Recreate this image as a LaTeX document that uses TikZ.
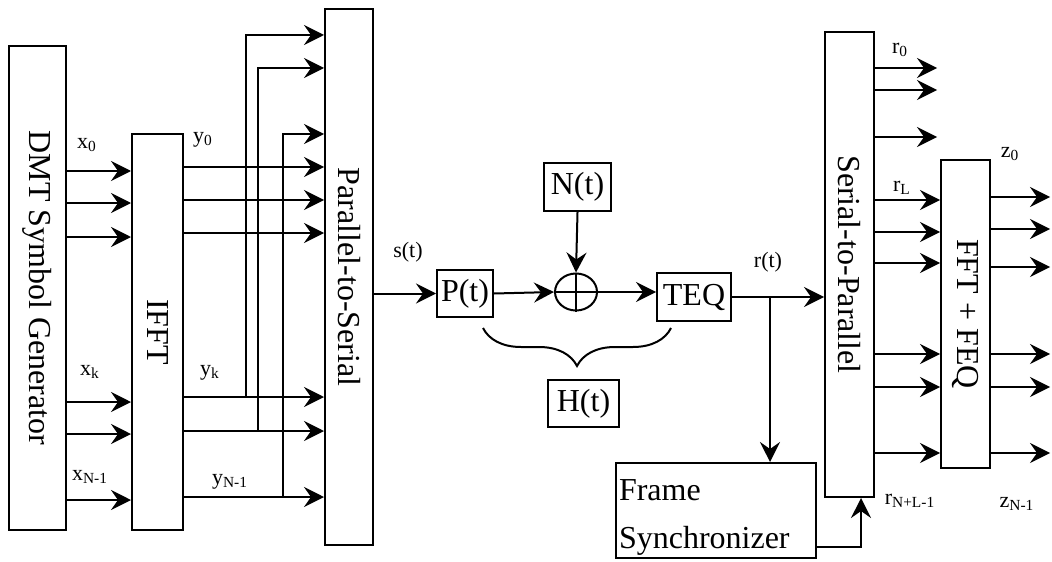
\documentclass[tikz,border=0pt]{standalone}
\usepackage{fontspec}
\usepackage{graphicx}
\setmainfont{Liberation Serif}
\usetikzlibrary{arrows.meta, shapes.geometric, decorations.pathreplacing}
\begin{document}
\begin{tikzpicture}[
	x=0.5pt, y=-0.5pt,
	box/.style={draw, line width=1pt, inner sep=0pt, font=\fontsize{16}{19}\selectfont},
	lbl/.style={inner sep=0pt, font=\fontsize{11}{13}\selectfont},
	arrow/.style={-{Stealth[length=10pt, width=10pt, inset=3.5pt]}, line width=1pt},
	brace/.style={decorate, decoration={brace, mirror, amplitude=19pt}, line width=1pt}
]
	\useasboundingbox (0,0) rectangle (1052,561);

	% transmitter
	\node[box, minimum width=28.5pt, minimum height=242pt] (dmt) at (37.5,288) {\rotatebox{-90}{DMT Symbol Generator}};
	\node[box, minimum width=25.5pt, minimum height=198pt] (ifft) at (157.5,332) {\rotatebox{-90}{IFFT}};
	\node[box, minimum width=24pt, minimum height=268pt] (ps) at (349,277) {\rotatebox{-90}{Parallel-to-Serial}};

	\foreach \yy in {171,203,237,402,434,500}
		\draw[arrow] (dmt.east |- 0,\yy) -- (ifft.west |- 0,\yy);
	\foreach \yy in {167,200,233,397,431,497}
		\draw[arrow] (ifft.east |- 0,\yy) -- (ps.west |- 0,\yy);

	\coordinate (tap0) at (246,397);
	\coordinate (tap1) at (258,431);
	\coordinate (tap2) at (283,497);
	\draw[arrow] (tap0) |- (ps.west |- 0,35);
	\draw[arrow] (tap1) |- (ps.west |- 0,68);
	\draw[arrow] (tap2) |- (ps.west |- 0,134);

	\node[lbl] (lx0) at (87,145) {x\textsubscript{0}};
	\node[lbl] (lxk) at (90,372) {x\textsubscript{k}};
	\node[lbl] (lxn) at (90,477) {x\textsubscript{N-1}};
	\node[lbl] (ly0) at (203,140) {y\textsubscript{0}};
	\node[lbl] (lyk) at (210,373) {y\textsubscript{k}};
	\node[lbl] (lyn) at (230,482) {y\textsubscript{N-1}};

	% channel
	\node[box, minimum width=28pt, minimum height=23.5pt] (pt) at (465,293.5) {P(t)};
	\node[draw, ellipse, line width=1pt, minimum width=21pt, minimum height=18.5pt, inner sep=0pt] (sum) at (576,292) {};
	\draw[line width=1pt] (sum.north) -- (sum.south) (sum.west) -- (sum.east);
	\node[box, minimum width=33.5pt, minimum height=24pt] (nt) at (577.5,187) {N(t)};
	\node[box, minimum width=37pt, minimum height=24pt] (teq) at (694,297) {TEQ};
	\node[box, minimum width=35.5pt, minimum height=23.5pt] (ht) at (583.5,403.5) {H(t)};

	\draw[arrow] (ps.east |- pt.west) -- (pt.west);
	\draw[arrow] (pt.east) -- (sum.west);
	\draw[arrow] (nt.south) -- (sum.north);
	\draw[arrow] (sum.east) -- (teq.west |- sum.east);
	\draw[brace] ([xshift=-5.5pt, yshift=-5pt]pt.south east) -- ([xshift=7.5pt, yshift=-3pt]teq.south west);

	\node[lbl] (lst) at (408,252) {s(t)};
	\node[lbl] (lrt) at (768,262) {r(t)};

	% receiver
	\node[box, minimum width=24.5pt, minimum height=232.5pt] (sp) at (849.5,264.5) {\rotatebox{-90}{Serial-to-Parallel}};
	\node[box, minimum width=24.5pt, minimum height=154pt] (fft) at (965.5,314) {\rotatebox{-90}{FFT + FEQ}};
	\node[box, minimum width=100pt, minimum height=47.5pt, text width=97pt, inner xsep=1.5pt, align=left, font=\fontsize{16}{24}\selectfont] (frame) at (716,510.5) {\rule{0pt}{17.5pt}Frame\\Synchronizer};

	\coordinate (tapr) at ([xshift=19pt]teq.east);
	\draw[arrow] (teq.east) -- (sp.west |- teq.east);
	\draw[arrow] (tapr) -- (tapr |- frame.north);
	\draw[arrow] (frame.east |- 0,547) -| ([xshift=5.75pt]sp.south);

	\coordinate (rend) at (937,0);
	\coordinate (zend) at (1050,0);
	\foreach \yy in {68,90,137}
		\draw[arrow] (sp.east |- 0,\yy) -- (rend |- 0,\yy);
	\foreach \yy in {200,232,263,354,387,453}
		\draw[arrow] (sp.east |- 0,\yy) -- (fft.west |- 0,\yy);
	\foreach \yy in {197,229,267,354,387,453}
		\draw[arrow] (fft.east |- 0,\yy) -- (zend |- 0,\yy);

	\node[lbl] (lr0) at (900,50) {r\textsubscript{0}};
	\node[lbl] (lrl) at (902,188) {r\textsubscript{L}};
	\node[lbl] (lrn) at (910,501) {r\textsubscript{N+L-1}};
	\node[lbl] (lz0) at (1010,154) {z\textsubscript{0}};
	\node[lbl] (lzn) at (1017,504) {z\textsubscript{N-1}};
\end{tikzpicture}
\end{document}
